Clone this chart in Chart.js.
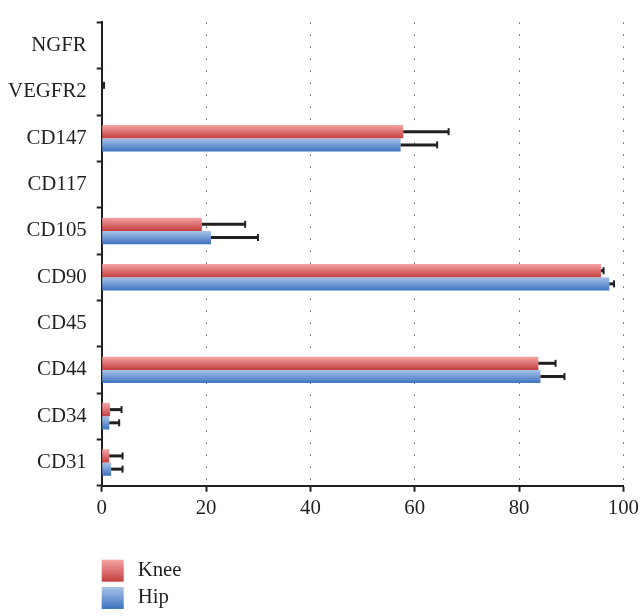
<!DOCTYPE html>
<html>
<head>
<meta charset="utf-8">
<script src="https://cdn.jsdelivr.net/npm/chart.js"></script>
<style>
  html, body { margin: 0; padding: 0; background: #ffffff; }
  #wrap { width: 643px; height: 616px; }
</style>
</head>
<body>
<div id="wrap"><canvas id="chart" width="643" height="616"></canvas></div>
<script>
// values (% positive cells)
const categories = ['NGFR', 'VEGFR2', 'CD147', 'CD117', 'CD105', 'CD90', 'CD45', 'CD44', 'CD34', 'CD31'];
const knee    = [0, 0.1, 57.8, 0, 19.2, 95.7, 0, 83.7, 1.6, 1.45];
const kneeErr = [0, 0.35, 8.7, 0, 8.3, 0.5, 0, 3.3, 2.2, 2.55];
const hip     = [0, 0, 57.3, 0, 20.95, 97.3, 0, 84.1, 1.45, 1.8];
const hipErr  = [0, 0, 7.0, 0, 9.0, 0.9, 0, 4.6, 1.9, 2.2];
const xTicks  = [0, 20, 40, 60, 80, 100];

const INK = '#231f20';
const FONT = 'Liberation Serif';
const FONT_SIZE = 20.8;
const CAT_PCT = 0.57;

// vertical gradient per bar, light on top, darker at the bottom
function barFill(light, dark) {
  return (ctx) => {
    const chart = ctx.chart;
    const y = chart.scales.y;
    if (!y || !chart.chartArea) return dark;
    const center = y.getPixelForValue(ctx.dataIndex);
    const band = Math.abs(y.getPixelForValue(1) - y.getPixelForValue(0));
    const half = band * CAT_PCT / 2;
    const top = ctx.datasetIndex === 0 ? center - half : center;
    const g = chart.ctx.createLinearGradient(0, top, 0, top + half);
    g.addColorStop(0, light);
    g.addColorStop(1, dark);
    return g;
  };
}

const errorBars = {
  id: 'errorBars',
  afterDatasetsDraw(chart) {
    const ctx = chart.ctx;
    const x = chart.scales.x;
    chart.data.datasets.forEach((ds, i) => {
      const meta = chart.getDatasetMeta(i);
      meta.data.forEach((bar, j) => {
        const err = ds.errors[j];
        if (!err) return;
        const x0 = x.getPixelForValue(ds.data[j]);
        const x1 = x.getPixelForValue(ds.data[j] + err);
        ctx.save();
        ctx.strokeStyle = INK;
        ctx.lineWidth = 3;
        ctx.beginPath();
        ctx.moveTo(x0, bar.y);
        ctx.lineTo(x1, bar.y);
        ctx.stroke();
        ctx.lineWidth = 2;
        ctx.beginPath();
        ctx.moveTo(x1, bar.y - 3.5);
        ctx.lineTo(x1, bar.y + 3.5);
        ctx.stroke();
        ctx.restore();
      });
    });
  }
};

// legend stacked under the axis, left aligned with the plot
const stackedLegend = {
  id: 'stackedLegend',
  afterDraw(chart) {
    const ctx = chart.ctx;
    const left = chart.chartArea.left;
    chart.data.datasets.forEach((ds, i) => {
      const top = 559.7 + i * 27.3;
      const g = ctx.createLinearGradient(0, top, 0, top + 22);
      g.addColorStop(0, ds.legendColors[0]);
      g.addColorStop(1, ds.legendColors[1]);
      ctx.save();
      ctx.fillStyle = g;
      ctx.fillRect(left, top, 22, 22);
      ctx.fillStyle = INK;
      ctx.font = FONT_SIZE + 'px "' + FONT + '"';
      ctx.textBaseline = 'middle';
      ctx.textAlign = 'left';
      ctx.fillText(ds.label, left + 36, top + 11);
      ctx.restore();
    });
  }
};

new Chart(document.getElementById('chart'), {
  type: 'bar',
  data: {
    labels: categories,
    datasets: [
      {
        label: 'Knee',
        data: knee,
        errors: kneeErr,
        backgroundColor: barFill('#f5a4a4', '#c53f40'),
        legendColors: ['#f5a4a4', '#c53f40'],
        categoryPercentage: CAT_PCT,
        barPercentage: 1.0
      },
      {
        label: 'Hip',
        data: hip,
        errors: hipErr,
        backgroundColor: barFill('#a8c4e9', '#3e73bf'),
        legendColors: ['#a8c4e9', '#3e73bf'],
        categoryPercentage: CAT_PCT,
        barPercentage: 1.0
      }
    ]
  },
  options: {
    indexAxis: 'y',
    responsive: false,
    animation: false,
    layout: { padding: { top: 11.7, right: 16.3, bottom: 0, left: 0 } },
    plugins: {
      legend: { display: false },
      tooltip: { enabled: false }
    },
    scales: {
      x: {
        min: 0,
        max: 100,
        afterBuildTicks: (scale) => { scale.ticks = xTicks.map(v => ({ value: v })); },
        afterFit: (scale) => { scale.height = 130.3; },
        grid: {
          color: '#444444',
          lineWidth: 1,
          tickColor: INK,
          tickWidth: 2,
          tickLength: 6
        },
        border: { color: INK, width: 2, dash: [1.3, 10.7] },
        ticks: {
          color: INK,
          padding: 4,
          maxRotation: 0,
          font: { family: FONT, size: FONT_SIZE }
        }
      },
      y: {
        afterFit: (scale) => { scale.width = 101.7; },
        grid: {
          offset: true,
          drawOnChartArea: false,
          tickColor: INK,
          tickWidth: 2,
          tickLength: 5
        },
        border: { color: INK, width: 2 },
        ticks: {
          color: INK,
          padding: 10,
          font: { family: FONT, size: FONT_SIZE }
        }
      }
    }
  },
  plugins: [errorBars, stackedLegend]
});
</script>
</body>
</html>
